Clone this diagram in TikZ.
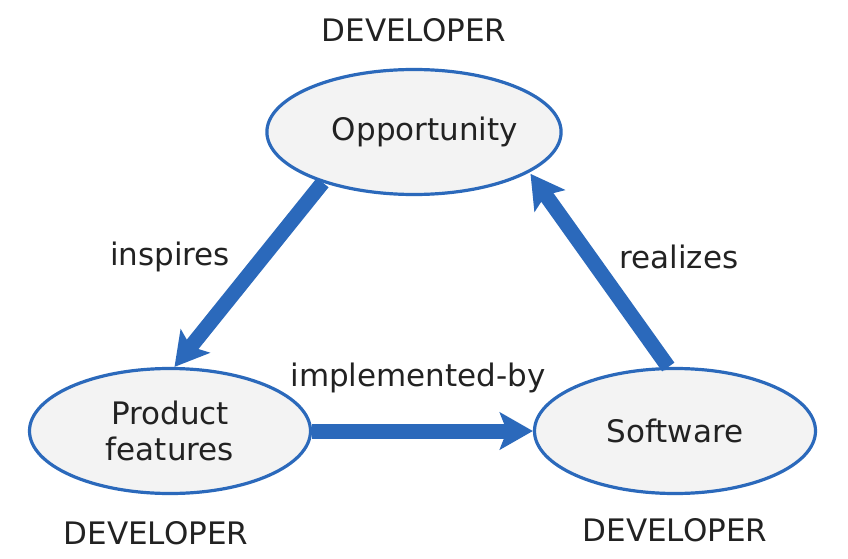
\documentclass[tikz,border=0pt]{standalone}
\usepackage{fontspec}
\setmainfont{DejaVu Sans}
\usetikzlibrary{shapes.geometric,arrows.meta}
\definecolor{eblue}{HTML}{2B69BB}
\definecolor{efill}{HTML}{F3F3F3}
\definecolor{etext}{HTML}{222222}
\begin{document}
\begin{tikzpicture}[x=1pt,y=-1pt,
  every node/.style={text=etext,font=\fontsize{31}{36}\selectfont},
  ell/.style={ellipse,draw=eblue,fill=efill,line width=3.2pt,minimum width=281pt,minimum height=125pt,inner sep=0pt,align=center},
  arr/.style={draw=eblue,line width=15pt,-{Stealth[length=33pt,width=37pt,inset=7pt]}},
  lbl/.style={inner sep=0pt}]
\useasboundingbox (0,0) rectangle (848,559);
\node[ell] (opp) at (414,132) {\hspace*{22pt}Opportunity};
\node[ell] (pf) at (170,431) {Product\\features};
\node[ell] (sw) at (675,431) {Software};
\draw[arr] (opp.209) -- (pf.86);
\draw[arr] (pf.east) -- (sw.west);
\draw[arr] (sw.96) -- ([shift={(8,-2)}]opp.-22);
\node[lbl] (d1) at (414,30) {DEVELOPER};
\node[lbl] (d2) at (156,533) {DEVELOPER};
\node[lbl] (d3) at (675,530) {DEVELOPER};
\node[lbl] (l1) at (170,257) {inspires};
\node[lbl] (l2) at (679,257) {realizes};
\node[lbl] (l3) at (418,378) {implemented-by};
\end{tikzpicture}
\end{document}
